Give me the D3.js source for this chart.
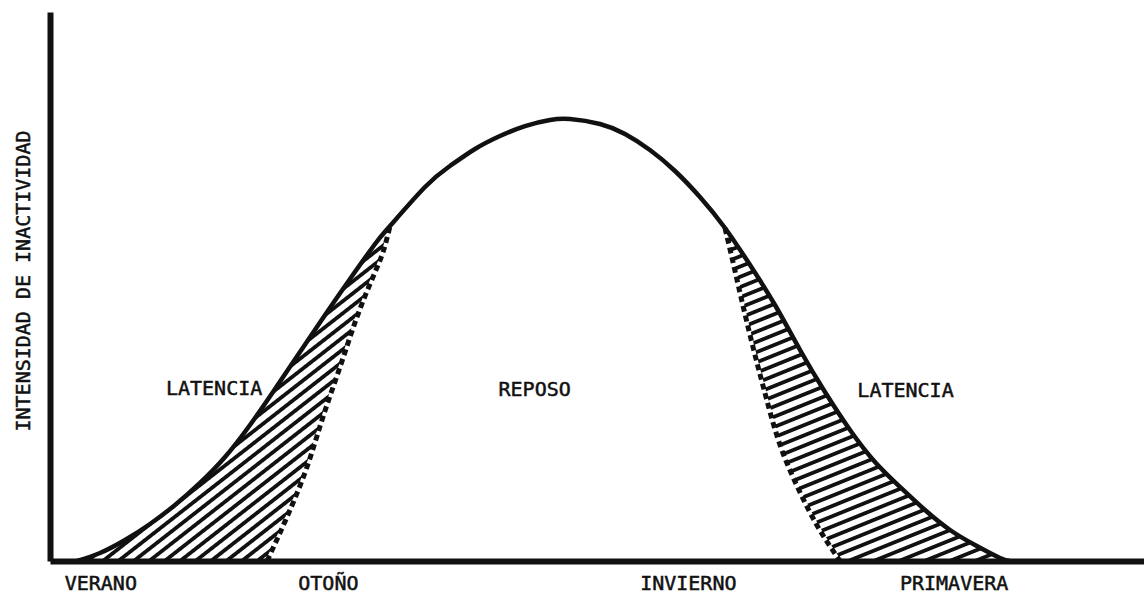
<!DOCTYPE html>
<html lang="es">
<head>
    <meta charset="utf-8">
    <title>Intensidad de inactividad</title>
    <script src="https://cdn.jsdelivr.net/npm/d3@7"></script>
    <style>
        body { margin: 0; background: #fff; }
        text { font-family: "DejaVu Sans Mono", monospace; fill: #111; stroke: #111; stroke-width: 0.5px; }
    </style>
</head>
<body>
<script>
    // outer curve: intensidad de inactividad across the year (x 0-100, y 0-100)
    const outerCurve = [
        [2.47, 0], [4.57, 1.46], [6.86, 3.83], [9.14, 6.74], [11.43, 10.2], [13.71, 14.21],
        [16.0, 18.94], [18.28, 24.77], [20.57, 31.33], [22.85, 38.07], [25.14, 44.81],
        [27.42, 51.37], [29.71, 57.74], [31.08, 61.02], [34.28, 68.12], [36.56, 71.95],
        [38.85, 75.05], [41.13, 77.41], [43.42, 79.23], [45.7, 80.33], [47.53, 80.51],
        [50.27, 79.6], [52.56, 77.78], [54.84, 74.86], [57.13, 71.04], [59.41, 66.3],
        [61.7, 60.66], [63.99, 53.92], [66.27, 46.63], [68.56, 38.43], [70.84, 30.78],
        [73.13, 23.86], [75.41, 18.03], [77.7, 13.48], [79.98, 9.29], [82.27, 5.65],
        [84.55, 2.91], [86.84, 0.55], [87.75, 0]
    ];
    // dashed boundaries between latencia and reposo
    const innerLeft = [
        [19.84, 0], [21.66, 8.01], [23.49, 17.12], [24.95, 26.23], [26.51, 35.34],
        [28.06, 44.44], [29.52, 51.73], [30.44, 56.28], [31.08, 61.02]
    ];
    const innerRight = [
        [61.7, 60.66], [62.43, 54.46], [63.16, 48.09], [64.26, 38.98], [65.45, 29.87],
        [66.73, 21.13], [68.37, 13.3], [70.2, 6.19], [72.21, 0]
    ];

    const seasons = ["VERANO", "OTOÑO", "INVIERNO", "PRIMAVERA"];
    const seasonPos = [4.6, 25.4, 58.3, 82.6];

    const regionLabels = ["LATENCIA", "REPOSO", "LATENCIA"];
    const regionLabelX = [15.0, 44.3, 78.2];
    const regionLabelY = [30.2, 30.0, 29.8];

    const W = 1144, H = 604;
    const svg = d3.select("body").append("svg")
        .attr("width", W).attr("height", H);

    const x = d3.scaleLinear().domain([0, 100]).range([50, 1144]);
    const y = d3.scaleLinear().domain([0, 100]).range([561, 12]);

    const line = d3.line()
        .x(d => x(d[0])).y(d => y(d[1]))
        .curve(d3.curveNatural);

    // hatch patterns
    const defs = svg.append("defs");
    const hatch = (id, angle, gap, thick) => {
        defs.append("pattern")
            .attr("id", id)
            .attr("patternUnits", "userSpaceOnUse")
            .attr("width", 12).attr("height", gap)
            .attr("patternTransform", `rotate(${angle})`)
            .append("rect")
            .attr("width", 12).attr("height", thick)
            .attr("fill", "#111");
    };
    hatch("hatchL", -38, 9.5, 3.8);
    hatch("hatchR", -22, 9.5, 3.8);

    const toPts = arr => arr.map(d => [x(d[0]), y(d[1])].join(",")).join("L");

    // left latencia region
    const mergeL = outerCurve.findIndex(d => d[0] === innerLeft[innerLeft.length - 1][0]);
    const leftShape = line(outerCurve.slice(0, mergeL + 1)) + "L" +
        toPts(innerLeft.slice().reverse()) + "Z";
    svg.append("path").attr("d", leftShape).attr("fill", "url(#hatchL)");

    // right latencia region
    const mergeR = outerCurve.findIndex(d => d[0] === innerRight[0][0]);
    const rightShape = line(outerCurve.slice(mergeR)) + "L" +
        toPts(innerRight.slice().reverse()) + "Z";
    svg.append("path").attr("d", rightShape).attr("fill", "url(#hatchR)");

    // dashed inner boundaries
    [innerLeft, innerRight].forEach(arr => {
        svg.append("path")
            .attr("d", line(arr))
            .attr("fill", "none")
            .attr("stroke", "#fff")
            .attr("stroke-width", 3);
        svg.append("path")
            .attr("d", line(arr))
            .attr("fill", "none")
            .attr("stroke", "#111")
            .attr("stroke-width", 5)
            .attr("stroke-dasharray", "6 4");
    });

    // outer curve
    svg.append("path")
        .attr("d", line(outerCurve))
        .attr("fill", "none")
        .attr("stroke", "#111")
        .attr("stroke-width", 4.5);

    // axes
    const xAxis = svg.append("g")
        .attr("transform", `translate(0,${y(0)})`)
        .call(d3.axisBottom(x)
            .tickValues(seasonPos)
            .tickFormat((d, i) => seasons[i])
            .tickSize(0).tickSizeOuter(0).tickPadding(15));
    xAxis.select(".domain").attr("stroke", "#111").attr("stroke-width", 6);
    xAxis.selectAll("text").attr("font-size", 20)
        .style("font-family", '"DejaVu Sans Mono", monospace')
        .attr("fill", "#111").attr("stroke", "#111").attr("stroke-width", 0.5);

    const yAxis = svg.append("g")
        .attr("transform", `translate(${x(0)},0)`)
        .call(d3.axisLeft(y).tickValues([]).tickSizeOuter(0));
    yAxis.select(".domain").attr("stroke", "#111").attr("stroke-width", 6);

    svg.append("text")
        .attr("transform", "translate(30,281) rotate(-90)")
        .attr("text-anchor", "middle")
        .attr("font-size", 20)
        .text("INTENSIDAD DE INACTIVIDAD");

    svg.selectAll("text.region")
        .data(regionLabels)
        .join("text")
        .attr("class", "region")
        .attr("x", (d, i) => x(regionLabelX[i]))
        .attr("y", (d, i) => y(regionLabelY[i]))
        .attr("text-anchor", "middle")
        .attr("font-size", 20)
        .text(d => d);
</script>
</body>
</html>
